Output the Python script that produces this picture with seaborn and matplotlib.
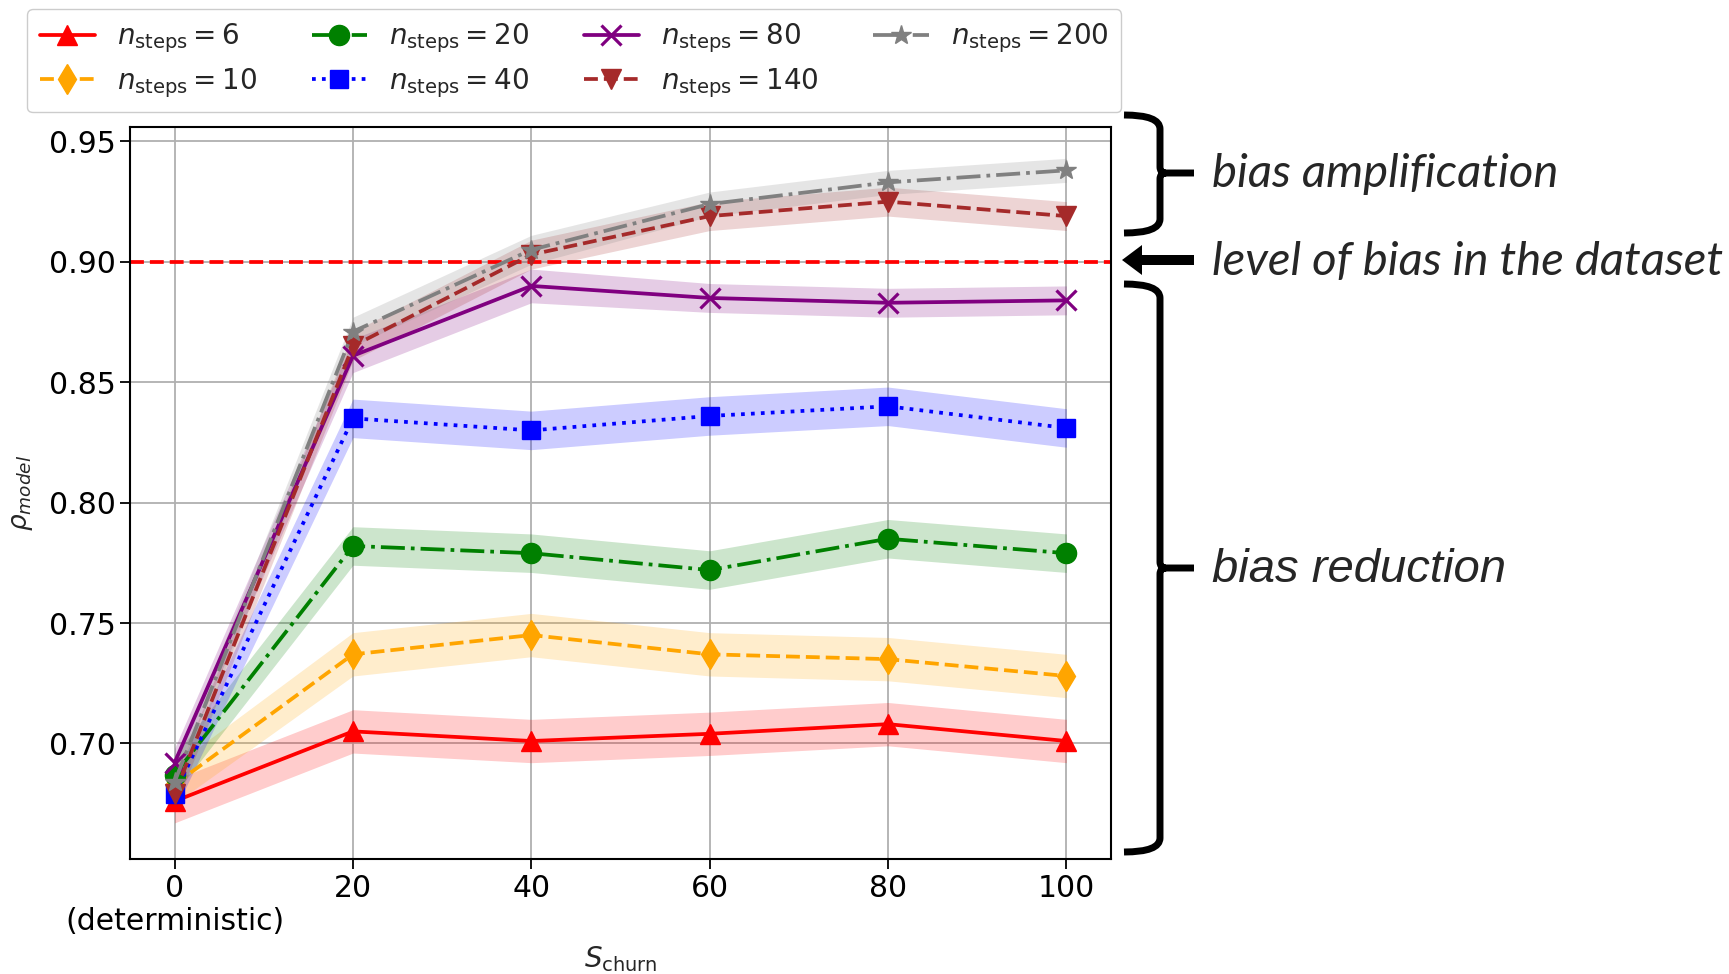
import numpy as np
import matplotlib
matplotlib.use("Agg")
import matplotlib.pyplot as plt
import seaborn as sns
from matplotlib.path import Path
from matplotlib.patches import PathPatch, FancyArrow

# ---------------- data ----------------
s_churn = [0, 20, 40, 60, 80, 100]
xtick_labels = ["0\n(deterministic)", "20", "40", "60", "80", "100"]
n_steps = [6, 10, 20, 40, 80, 140, 200]

rho_6 = [0.676, 0.705, 0.701, 0.704, 0.708, 0.701]
rho_10 = [0.683, 0.737, 0.745, 0.737, 0.735, 0.728]
rho_20 = [0.687, 0.782, 0.779, 0.772, 0.785, 0.779]
rho_40 = [0.679, 0.835, 0.830, 0.836, 0.840, 0.831]
rho_80 = [0.692, 0.861, 0.890, 0.885, 0.883, 0.884]
rho_140 = [0.679, 0.865, 0.903, 0.919, 0.925, 0.919]
rho_200 = [0.684, 0.871, 0.905, 0.924, 0.933, 0.938]

err_6 = [0.009, 0.009, 0.009, 0.009, 0.009, 0.009]
err_10 = [0.008, 0.009, 0.009, 0.009, 0.009, 0.009]
err_20 = [0.008, 0.008, 0.008, 0.008, 0.008, 0.008]
err_40 = [0.007, 0.008, 0.008, 0.008, 0.008, 0.008]
err_80 = [0.006, 0.007, 0.007, 0.006, 0.006, 0.006]
err_140 = [0.006, 0.006, 0.006, 0.006, 0.006, 0.006]
err_200 = [0.006, 0.006, 0.006, 0.005, 0.005, 0.005]

dataset_bias = 0.90

series = [rho_6, rho_10, rho_20, rho_40, rho_80, rho_140, rho_200]
errors = [err_6, err_10, err_20, err_40, err_80, err_140, err_200]
colors = ["red", "orange", "green", "blue", "purple", "brown", "gray"]
markers = ["^", "d", "o", "s", "x", "v", "*"]
linestyles = ["-", "--", "-.", ":", "-", "--", "-."]
msizes = [14.5, 15.5, 14.5, 13.5, 15, 14.5, 15]

# ---------------- style ----------------
sns.set_theme(style="ticks")
plt.rcParams["font.family"] = ["DejaVu Sans"]
plt.rcParams["mathtext.fontset"] = "dejavusans"

W, H = 1729, 974
fig = plt.figure(figsize=(W / 100, H / 100), dpi=100)
ax = fig.add_axes([130 / W, 1 - 859 / H, (1111 - 130) / W, (859 - 127) / H])

for vals, errs, c, m, ls, ms, n in zip(series, errors, colors, markers,
                                       linestyles, msizes, n_steps):
    sns.lineplot(x=s_churn, y=vals, ax=ax, color=c, marker=m, linestyle=ls,
                 lw=2.7, markersize=ms, markeredgecolor=c,
                 markeredgewidth=2.3 if m == "x" else 1,
                 label=r"$n_{\mathrm{steps}}=%d$" % n)
    lo = np.array(vals) - np.array(errs)
    hi = np.array(vals) + np.array(errs)
    ax.fill_between(s_churn, lo, hi, color=c, alpha=0.2, lw=0)

ax.axhline(dataset_bias, color="red", ls="--", lw=2.7, zorder=1.5)

ax.set_xlim(-5, 105)
ax.set_ylim(0.652, 0.956)
ax.set_xticks(s_churn)
ax.set_xticklabels(xtick_labels)
ax.set_yticks([0.70, 0.75, 0.80, 0.85, 0.90, 0.95])
ax.set_yticklabels(["0.70", "0.75", "0.80", "0.85", "0.90", "0.95"])
ax.tick_params(labelsize=21.5, length=7, width=1.3, colors="black")
ax.grid(True, color="#b0b0b0", lw=1.3)
for sp in ax.spines.values():
    sp.set_color("black")
    sp.set_linewidth(1.5)
ax.set_xlabel(r"$S_{\mathrm{churn}}$", fontsize=20, labelpad=6)
ax.set_ylabel(r"$\rho_{model}$", fontsize=19, labelpad=10)

leg = ax.legend(ncol=4, loc="upper left", fontsize=20,
                bbox_to_anchor=(27 / W, 1 - 9 / H),
                bbox_transform=fig.transFigure, borderaxespad=0,
                handlelength=2.0, columnspacing=1.95, borderpad=0.45,
                frameon=True, fancybox=True, edgecolor="#cccccc",
                framealpha=1.0, labelspacing=0.4)

# ---------------- annotations (figure pixel overlay) ----------------
ov = fig.add_axes([0, 0, 1, 1], facecolor="none")
ov.set_xlim(0, W)
ov.set_ylim(H, 0)
ov.axis("off")


def brace(x0, xv, xt, ytop, ybot, ytip, r=14):
    verts = [
        (x0, ytop), (xv, ytop), (xv, ytop + r),
        (xv, ytip - 6), (xv, ytip), (xv + 6, ytip),
        (xt, ytip),
        (xv + 6, ytip), (xv, ytip), (xv, ytip + 6),
        (xv, ybot - r), (xv, ybot), (x0, ybot),
    ]
    codes = [Path.MOVETO, Path.CURVE3, Path.CURVE3,
             Path.LINETO, Path.CURVE3, Path.CURVE3,
             Path.LINETO,
             Path.MOVETO, Path.CURVE3, Path.CURVE3,
             Path.LINETO, Path.CURVE3, Path.CURVE3]
    ov.add_patch(PathPatch(Path(verts, codes), fill=False, lw=5,
                           edgecolor="black", capstyle="butt",
                           joinstyle="round"))


brace(1124, 1160, 1194, 115, 233, 173)
brace(1124, 1160, 1194, 284, 852, 568)

ov.add_patch(FancyArrow(1194, 260, -72, 0, width=10, head_width=30,
                        head_length=20, length_includes_head=True,
                        color="black", lw=0))

ov.text(1212, 174, "bias amplification", fontsize=34, family="Lato",
        style="italic", va="center", ha="left")
ov.text(1212, 262, "level of bias in the dataset", fontsize=34,
        family="Lato", style="italic", va="center", ha="left")
ov.text(1212, 570, "bias reduction", fontsize=34, family="Liberation Sans",
        style="italic", va="center", ha="left")

fig.savefig("out.png", dpi=100)
